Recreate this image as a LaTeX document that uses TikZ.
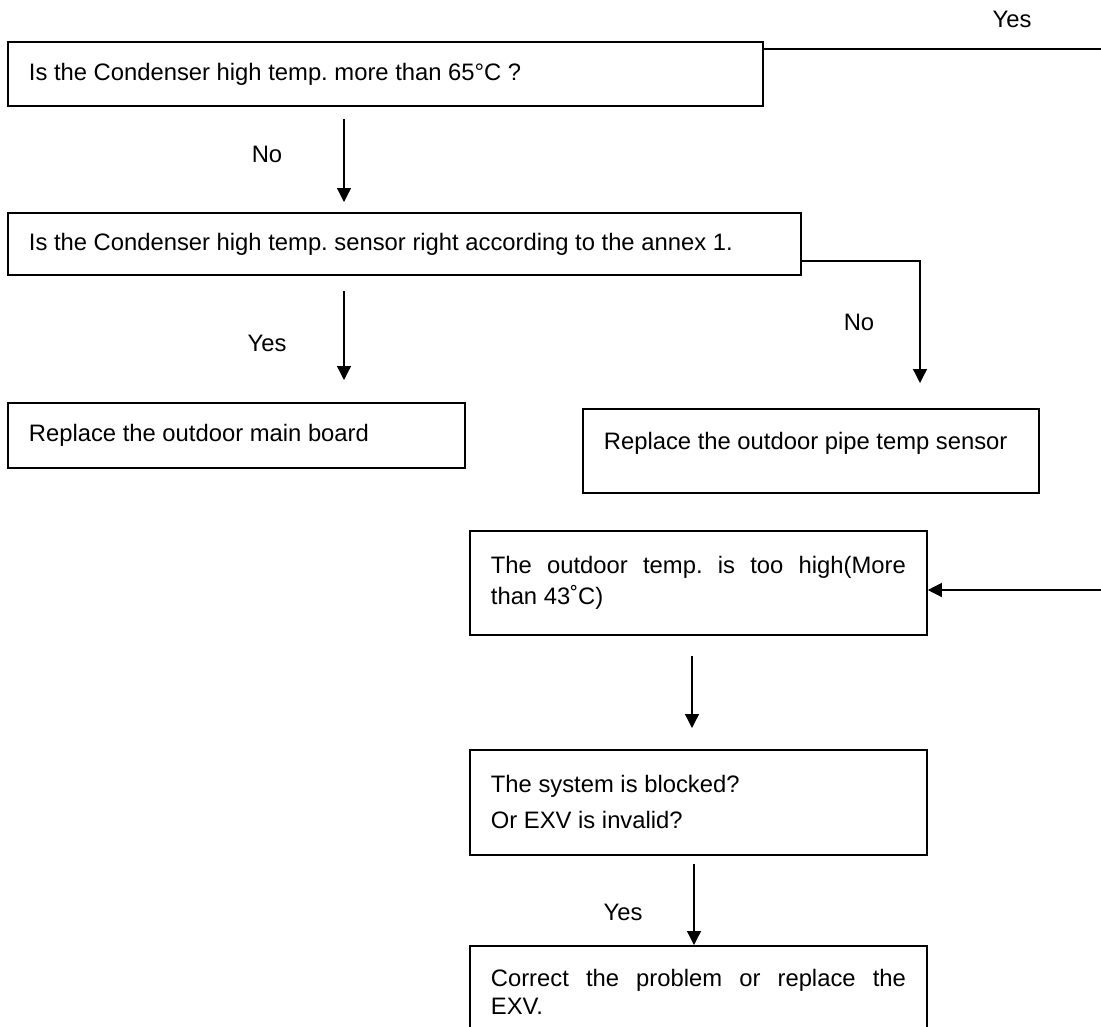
\documentclass[tikz,border=0pt]{standalone}
\usepackage{fontspec}
\setmainfont{Liberation Sans}
\usetikzlibrary{arrows.meta}
\frenchspacing

\tikzset{
	chkbox/.style={draw, line width=1.8pt, anchor=north west, align=left,
		inner xsep=21pt, inner ysep=0pt,
		font=\fontsize{23.8}{28}\selectfont,
		execute at begin node={\spaceskip=0pt\xspaceskip=0pt\frenchspacing}},
	flowarrow/.style={line width=1.3pt, -{Triangle[length=14pt,width=14pt]}},
	flowlabel/.style={font=\fontsize{23.8}{28}\selectfont}
}

\begin{document}
\begin{tikzpicture}[x=1pt, y=-1pt]
		\useasboundingbox (0,0) rectangle (1101,1026);
		\clip (0,0) rectangle (1101,1026);
		
		%left column
		\node[chkbox, text width=713pt, minimum height=64pt] (condtemp) at (7,41) {Is the Condenser high temp. more than 65°C ?};
		\node[chkbox, text width=751pt, minimum height=62pt] (condsensor) at (7,212) {Is the Condenser high temp. sensor right according to the annex 1.};
		\node[chkbox, text width=415pt, minimum height=65pt] (mainboard) at (7,402) {Replace the outdoor main board};
		
		%right column
		\node[chkbox, text width=414pt, minimum height=84pt, text depth=21pt] (pipesensor) at (582,408) {Replace the outdoor pipe temp sensor};
		\node[chkbox, text width=415pt, minimum height=104pt] (outtemp) at (469,530) {\makebox[415pt][s]{The outdoor temp. is too high(More}\\[3pt] than 43˚C)};
		\node[chkbox, text width=415pt, minimum height=105pt] (blocked) at (469,749) {The system is blocked?\\[8pt] Or EXV is invalid?};
		\node[chkbox, text width=415pt, minimum height=91pt] (correct) at (469,945) {\makebox[415pt][s]{Correct the problem or replace the}\\ EXV.};
		
		%connectors
		\coordinate (yesend) at (1101,49);
		\coordinate (yesin) at (1101,590);
		\draw[line width=1.3pt] ([yshift=-8pt]condtemp.north east) -- (yesend);
		\draw[flowarrow] (yesin) -- (yesin -| outtemp.east);
		\draw[flowarrow, shorten <=12pt, shorten >=10pt] ([xshift=337pt]condtemp.south west) -- ([xshift=337pt]condsensor.north west);
		\draw[flowarrow, shorten <=15pt, shorten >=22pt] ([xshift=337pt]condsensor.south west) -- ([xshift=337pt]mainboard.north west);
		\draw[flowarrow, shorten >=25pt] ([yshift=-17pt]condsensor.east) -| ([xshift=338pt]pipesensor.north west);
		\draw[flowarrow, shorten <=20pt, shorten >=21pt] ([xshift=223pt]outtemp.south west) -- ([xshift=223pt]blocked.north west);
		\draw[flowarrow, shorten <=8pt] ([xshift=225pt]blocked.south west) -- ([xshift=225pt]correct.north west);
		
		%labels
		\node[flowlabel] (yestop) at (1012,19) {Yes};
		\node[flowlabel] (nosensor) at (267,154) {No};
		\node[flowlabel] (yesboard) at (267,343) {Yes};
		\node[flowlabel] (nopipe) at (859,322) {No};
		\node[flowlabel] (yesexv) at (623,912) {Yes};
\end{tikzpicture}
\end{document}
